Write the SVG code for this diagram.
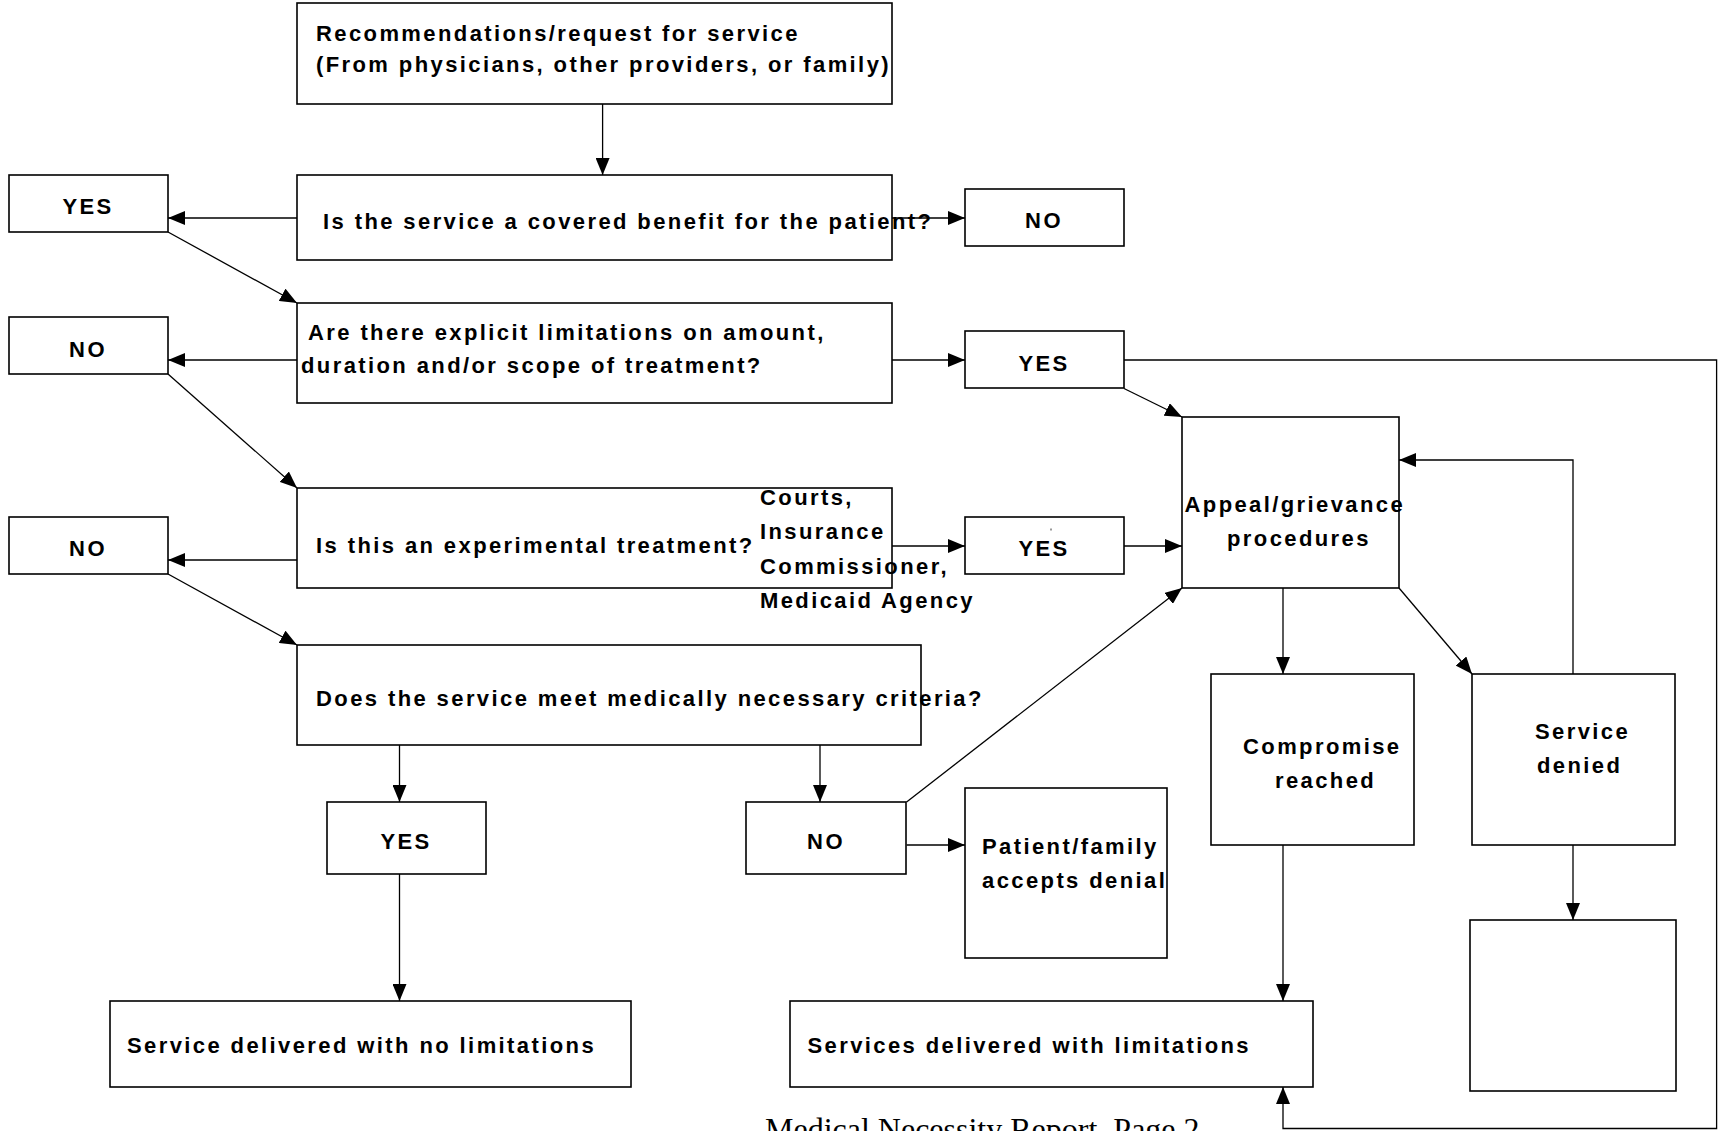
<svg xmlns="http://www.w3.org/2000/svg" width="1721" height="1131" viewBox="0 0 1721 1131">
<style>
.box{fill:#fff;stroke:#000;stroke-width:1.6}
.t{font-family:"Liberation Sans",Arial,sans-serif;font-size:22px;font-weight:bold;letter-spacing:2.4px;fill:#000}
.c{text-anchor:middle}
.foot{font-family:"Liberation Serif","Times New Roman",serif;font-size:32px;fill:#000}
</style>
<defs>
<marker id="ah" markerWidth="17" markerHeight="14" refX="17" refY="7" orient="auto" markerUnits="userSpaceOnUse"><path d="M0,0 L17,7 L0,14 z" fill="#000"/></marker>
</defs>
<rect width="1721" height="1131" fill="#fff"/>
<g id="connectors" fill="none" stroke="#000" stroke-width="1.3">
<path d="M602.6,104 V175" marker-end="url(#ah)"/>
<path d="M297,218 H168" marker-end="url(#ah)"/>
<path d="M892,218 H965" marker-end="url(#ah)"/>
<path d="M168,232 L297,303" marker-end="url(#ah)"/>
<path d="M297,360 H168" marker-end="url(#ah)"/>
<path d="M892,360 H965" marker-end="url(#ah)"/>
<path d="M1124,360 H1716.6 V1128.5 H1283 V1087" marker-end="url(#ah)"/>
<path d="M1124,388.5 L1182,417" marker-end="url(#ah)"/>
<path d="M168,374 L297,488" marker-end="url(#ah)"/>
<path d="M297,560 H168" marker-end="url(#ah)"/>
<path d="M892,546 H965" marker-end="url(#ah)"/>
<path d="M1124,546 H1182" marker-end="url(#ah)"/>
<path d="M168,574 L297,645" marker-end="url(#ah)"/>
<path d="M399.5,745 V802" marker-end="url(#ah)"/>
<path d="M820,745 V802" marker-end="url(#ah)"/>
<path d="M906.6,802 L1182,588" marker-end="url(#ah)"/>
<path d="M906.6,845 H965" marker-end="url(#ah)"/>
<path d="M399.5,874 V1001" marker-end="url(#ah)"/>
<path d="M1283,588 V674" marker-end="url(#ah)"/>
<path d="M1399,588 L1472,674" marker-end="url(#ah)"/>
<path d="M1573,674 V460 H1399" marker-end="url(#ah)"/>
<path d="M1573,845 V920" marker-end="url(#ah)"/>
<path d="M1283,845 V1001" marker-end="url(#ah)"/>
</g>
<g id="n-request"><rect class="box" x="297" y="3" width="595" height="101"/>
<text class="t" x="316" y="41">Recommendations/request for service</text>
<text class="t" x="316" y="72">(From physicians, other providers, or family)</text></g>
<g id="n-covered"><rect class="box" x="297" y="175" width="595" height="85" fill-opacity="0"/>
<text class="t" x="323" y="229">Is the service a covered benefit for the patient?</text></g>
<g id="n-yes1"><rect class="box" x="9" y="175" width="159" height="57"/>
<text class="t c" x="88" y="214">YES</text></g>
<g id="n-no1"><rect class="box" x="965" y="189" width="159" height="57"/>
<text class="t c" x="1044" y="228">NO</text></g>
<g id="n-limits"><rect class="box" x="297" y="303" width="595" height="100"/>
<text class="t" x="308" y="340">Are there explicit limitations on amount,</text>
<text class="t" x="301" y="373">duration and/or scope of treatment?</text></g>
<g id="n-no2"><rect class="box" x="9" y="317" width="159" height="57"/>
<text class="t c" x="88" y="356.5">NO</text></g>
<g id="n-yes2"><rect class="box" x="965" y="331" width="159" height="57"/>
<text class="t c" x="1044" y="371">YES</text></g>
<g id="n-experimental"><rect class="box" x="297" y="488" width="595" height="100"/>
<text class="t" x="316" y="553">Is this an experimental treatment?</text></g>
<g id="n-courts">
<text class="t" x="760" y="505">Courts,</text>
<text class="t" x="760" y="539">Insurance</text>
<text class="t" x="760" y="574">Commissioner,</text>
<text class="t" x="760" y="608">Medicaid Agency</text></g>
<g id="n-no3"><rect class="box" x="9" y="517" width="159" height="57"/>
<text class="t c" x="88" y="555.5">NO</text></g>
<g id="n-yes3"><rect class="box" x="965" y="517" width="159" height="57"/>
<text class="t c" x="1044" y="555.5">YES</text>
<line x1="1051" y1="528.5" x2="1051" y2="530.5" stroke="#000" stroke-width="0.8"/></g>
<g id="n-appeal"><rect class="box" x="1182" y="417" width="217" height="171" fill-opacity="0"/>
<text class="t" x="1184.5" y="512">Appeal/grievance</text>
<text class="t" x="1227" y="545.5">procedures</text></g>
<g id="n-criteria"><rect class="box" x="297" y="645" width="624" height="100"/>
<text class="t" x="316" y="706">Does the service meet medically necessary criteria?</text></g>
<g id="n-yes4"><rect class="box" x="327" y="802" width="159" height="72"/>
<text class="t c" x="406" y="849">YES</text></g>
<g id="n-no4"><rect class="box" x="746" y="802" width="160" height="72"/>
<text class="t c" x="826" y="849">NO</text></g>
<g id="n-accepts"><rect class="box" x="965" y="788" width="202" height="170"/>
<text class="t" x="982" y="854">Patient/family</text>
<text class="t" x="982" y="888">accepts denial</text></g>
<g id="n-compromise"><rect class="box" x="1211" y="674" width="203" height="171"/>
<text class="t" x="1243" y="754">Compromise</text>
<text class="t" x="1275" y="788">reached</text></g>
<g id="n-denied"><rect class="box" x="1472" y="674" width="203" height="171"/>
<text class="t" x="1535" y="739">Service</text>
<text class="t" x="1537" y="773">denied</text></g>
<g id="n-empty"><rect class="box" x="1470" y="920" width="206" height="171"/></g>
<g id="n-nolimits"><rect class="box" x="110" y="1001" width="521" height="86"/>
<text class="t" x="127" y="1052.5">Service delivered with no limitations</text></g>
<g id="n-withlimits"><rect class="box" x="790" y="1001" width="523" height="86"/>
<text class="t" x="807.5" y="1052.5">Services delivered with limitations</text></g>
<text class="foot" x="765" y="1140">Medical Necessity Report, Page 2</text>
</svg>
